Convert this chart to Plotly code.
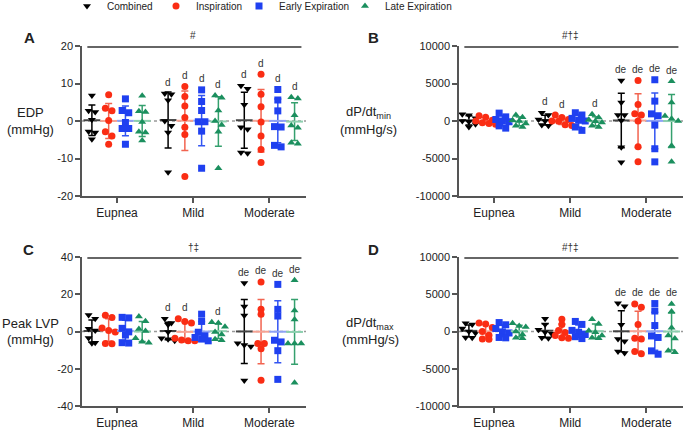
import numpy as np
import plotly.graph_objects as go

W, H = 685, 430

categories = ["Eupnea", "Mild", "Moderate"]
series = ["Combined", "Inspiration", "Early Expiration", "Late Expiration"]

# panel A - EDP (mmHg), one list per category
edp_combined = [[6.8, 2.7, 2.4, 0.3, -2.8, -3.1, -4.9], [7.3, 7.1, 5.5, 0.0, -1.3, -3.1, -13.7], [9.4, 8.6, 4.3, -1.7, -2.2, -8.4, -8.6]]
edp_insp = [[7.0, 3.4, 2.7, 0.1, -2.9, -4.0, -6.2], [9.2, 6.5, 4.0, 0.9, -1.7, -3.6, -14.8], [12.5, 7.1, 3.8, -0.3, -4.0, -7.6, -11.1]]
edp_early = [[5.9, 2.8, 2.2, -0.4, -2.0, -2.0, -6.2], [8.3, 5.2, 2.8, -0.2, -0.2, -2.7, -12.6], [8.4, 5.6, 2.7, -1.5, -1.6, -6.5, -6.9]]
edp_late = [[6.7, 2.6, 2.4, -0.3, -2.9, -3.1, -5.2], [6.8, 6.2, 2.8, 0.0, -1.1, -2.9, -12.6], [6.3, 6.0, 1.5, -1.2, -1.8, -5.8, -6.1]]
edp_sig = [["", "", "", ""], ["d", "d", "d", "d"], ["d", "d", "d", "d"]]

# panel B - dP/dt min (mmHg/s)
dpmin_combined = [[900, 750, 350, 0, -100, -450, -800], [1100, 800, 200, 0, -150, -550, -650], [5400, 2450, 800, 800, 50, -3500, -5500]]
dpmin_insp = [[700, 500, 100, 0, -250, -350, -450], [800, 450, 200, 0, -50, -500, -600], [5400, 2200, 950, 800, 0, -3450, -5450]]
dpmin_early = [[1050, 550, 200, 0, -100, -650, -950], [1100, 800, 350, 100, 0, -800, -1250], [5500, 2650, 950, 700, -550, -3700, -5450]]
dpmin_late = [[800, 500, 100, 0, -350, -650, -800], [900, 450, 150, -50, -200, -650, -800], [5300, 2450, 650, 300, 0, -3300, -5450]]
dpmin_sig = [["", "", "", ""], ["d", "d", "", "d"], ["de", "de", "de", "de"]]

# panel C - Peak LVP (mmHg)
lvp_combined = [[8.8, 6.8, 1.5, 0.5, -3.5, -6.0, -6.3], [6.8, 4.5, 3.6, -0.3, -3.6, -4.2, -5.0], [26.0, 13.4, 8.6, -6.3, -7.2, -8.0, -26.3]]
lvp_insp = [[8.7, 7.5, 1.9, 0.6, -0.3, -6.5, -6.6], [6.8, 5.4, 4.5, -3.6, -4.5, -5.0, -5.0], [26.6, 11.9, 9.2, -6.5, -6.5, -9.2, -26.2]]
lvp_early = [[7.6, 7.3, 1.7, -0.2, -1.9, -6.0, -6.2], [9.3, 5.4, -0.4, -2.3, -3.2, -4.0, -5.0], [25.3, 11.9, 8.3, -4.7, -5.6, -10.3, -25.7]]
lvp_late = [[8.0, 5.5, 1.3, 0.3, -3.6, -5.5, -6.0], [5.0, 4.6, 2.5, -0.3, -1.6, -4.2, -4.7], [27.5, 11.3, 6.5, -6.5, -6.5, -6.5, -27.5]]
lvp_sig = [["", "", "", ""], ["d", "d", "", "d"], ["de", "de", "de", "de"]]

# panel D - dP/dt max (mmHg/s)
dpmax_combined = [[1100, 950, 400, 0, -200, -800, -850], [1700, 950, 250, -100, -300, -850, -900], [3800, 3400, 900, -1000, -1300, -2900, -2700]]
dpmax_insp = [[1150, 1000, 550, 0, -500, -1000, -1050], [1650, 950, 150, -150, -550, -850, -900], [3700, 3250, 950, -900, -1000, -3000, -2700]]
dpmax_early = [[1200, 900, 400, -50, -200, -800, -850], [1350, 950, 150, -100, -400, -700, -950], [3750, 2750, 800, -800, -600, -3050, -2600]]
dpmax_late = [[1100, 750, 600, 0, -400, -850, -900], [1650, 1000, 100, -100, -550, -850, -900], [3700, 2700, 500, -950, -550, -2800, -2600]]
dpmax_sig = [["", "", "", ""], ["", "", "", ""], ["de", "de", "de", "de"]]

mmhg_ticks = [-20, -10, 0, 10, 20]
lvp_ticks = [-40, -20, 0, 20, 40]
dp_ticks = [-10000, -5000, 0, 5000, 10000]

# styling
symbols = ["triangle-down", "circle", "square", "triangle-up"]
colors = ["#000000", "#fa2d14", "#1f40f0", "#1b8f5e"]
bar_colors = ["#000000", "#f26450", "#3355f2", "#35a06e"]
mean_colors = ["#444444", "#f6a394", "#8ea1f5", "#8ccfae"]
group_off = [-0.33, -0.11, 0.11, 0.33]
legend_w = [44, 38, 61, 80]
font = "Liberation Sans, Arial, sans-serif"
xr = [-0.46, 2.48]

panels = [
    dict(letter="A", data=[edp_combined, edp_insp, edp_early, edp_late], sig=edp_sig, top="#",
         box=(82, 306, 46, 196), yr=(-20, 20), ticks=mmhg_ticks, title=["EDP", "(mmHg)"], tx=30, lx=29, ly=38),
    dict(letter="B", data=[dpmin_combined, dpmin_insp, dpmin_early, dpmin_late], sig=dpmin_sig, top="#†‡",
         box=(459, 683, 46, 196), yr=(-10000, 10000), ticks=dp_ticks, title=["dP/dt<sub>min</sub>", "(mmHg/s)"], tx=368, lx=373, ly=38),
    dict(letter="C", data=[lvp_combined, lvp_insp, lvp_early, lvp_late], sig=lvp_sig, top="†‡",
         box=(82, 306, 257, 406), yr=(-40, 40), ticks=lvp_ticks, title=["Peak LVP", "(mmHg)"], tx=30, lx=28, ly=249),
    dict(letter="D", data=[dpmax_combined, dpmax_insp, dpmax_early, dpmax_late], sig=dpmax_sig, top="#†‡",
         box=(459, 683, 257, 406), yr=(-10000, 10000), ticks=dp_ticks, title=["dP/dt<sub>max</sub>", "(mmHg/s)"], tx=370, lx=373, ly=249),
]


def swarm(py, d=6.6, thr=5.0):
    # spread points that sit at nearly the same height side by side (pixels)
    order = np.argsort(-py)
    off = np.zeros(len(py))
    rows = []
    for i in order:
        if rows and rows[-1][0] - py[i] < thr:
            rows[-1][1].append(i)
        else:
            rows.append([py[i], [i]])
    for _, idx in rows:
        n = len(idx)
        for k, i in enumerate(idx):
            off[i] = (k - (n - 1) / 2) * d
    return off


fig = go.Figure()
layout = {}
annotations = []
shapes = []
shown = set()

for p, pan in enumerate(panels, start=1):
    x0, x1, y0, y1 = pan["box"]
    xa, ya = "x%d" % p, "y%d" % p
    ppx = (x1 - x0) / (xr[1] - xr[0])
    ppy = (y1 - y0) / (pan["yr"][1] - pan["yr"][0])

    layout["xaxis%d" % p] = dict(
        domain=[x0 / W, x1 / W], range=xr, anchor=ya, showgrid=False, zeroline=False,
        showline=True, linecolor="#555", linewidth=1.5, ticks="outside", ticklen=5, tickwidth=1.5,
        tickcolor="#555", tickvals=[0, 1, 2], ticktext=categories,
        tickfont=dict(size=12, color="#222", family=font))
    layout["yaxis%d" % p] = dict(
        domain=[1 - y1 / H, 1 - y0 / H], range=list(pan["yr"]), anchor=xa, showgrid=False, zeroline=False,
        showline=True, linecolor="#555", linewidth=1.5, ticks="outside", ticklen=5, tickwidth=1.5,
        tickcolor="#555", tickvals=pan["ticks"], ticktext=[str(t) for t in pan["ticks"]],
        tickfont=dict(size=11, color="#222", family=font))

    # dotted zero line
    shapes.append(dict(type="line", xref=xa, yref=ya, x0=xr[0], x1=xr[1], y0=0, y1=0,
                       line=dict(color="#999", width=1.5, dash="dot"), layer="below"))
    # significance bar on top
    shapes.append(dict(type="line", xref="paper", yref="paper",
                       x0=(x0 + (-0.39 - xr[0]) * ppx) / W, x1=(x0 + (2.42 - xr[0]) * ppx) / W,
                       y0=1 - (y0 + 1) / H, y1=1 - (y0 + 1) / H, line=dict(color="#666", width=2)))
    annotations.append(dict(text=pan["top"], xref=xa, yref="paper", x=1, y=1 - (y0 - 10) / H,
                            xanchor="center", yanchor="middle", showarrow=False,
                            font=dict(size=10, color="#333", family=font)))

    for c in range(3):
        for s in range(4):
            vals = np.array(pan["data"][s][c], dtype=float)
            xc = c + group_off[s]
            xs = xc + swarm(vals * ppy) / ppx
            m, sd = vals.mean(), vals.std(ddof=1)
            fig.add_trace(go.Scatter(
                x=[xc], y=[m], xaxis=xa, yaxis=ya, mode="markers", showlegend=False, hoverinfo="skip",
                marker=dict(symbol="line-ew", size=12, color=mean_colors[s], line=dict(color=mean_colors[s], width=2)),
                error_y=dict(type="data", array=[sd], color=bar_colors[s], thickness=1.5, width=3.5)))
            fig.add_trace(go.Scatter(
                x=xs, y=vals, xaxis=xa, yaxis=ya, mode="markers", name=series[s],
                legendgroup=series[s], showlegend=s not in shown, legendwidth=legend_w[s],
                marker=dict(symbol=symbols[s], size=7, color=colors[s], line=dict(width=0))))
            shown.add(s)
            lab = pan["sig"][c][s]
            if lab:
                annotations.append(dict(text=lab, xref=xa, yref=ya, x=xc, y=vals.max(), yshift=11,
                                        xanchor="center", yanchor="middle", showarrow=False,
                                        font=dict(size=10, color="#333", family=font)))

    # y axis title, two lines
    zero_px = y0 + (pan["yr"][1] - 0) * ppy
    for k, line in enumerate(pan["title"]):
        annotations.append(dict(text=line, xref="paper", yref="paper", x=pan["tx"] / W,
                                y=1 - (zero_px - 8 + 16 * k) / H, xanchor="center", yanchor="middle",
                                showarrow=False, font=dict(size=13, color="#222", family=font)))
    annotations.append(dict(text="<b>%s</b>" % pan["letter"], xref="paper", yref="paper",
                            x=pan["lx"] / W, y=1 - pan["ly"] / H, xanchor="center", yanchor="middle",
                            showarrow=False, font=dict(size=15, color="#222", family=font)))

fig.update_layout(
    width=W, height=H, margin=dict(l=0, r=0, t=0, b=0, autoexpand=False),
    paper_bgcolor="white", plot_bgcolor="white",
    font=dict(family=font, color="#222"),
    annotations=annotations, shapes=shapes,
    legend=dict(orientation="h", x=67 / W, y=1.02, xanchor="left", yanchor="top",
                font=dict(size=10, color="#222", family=font), bgcolor="rgba(0,0,0,0)"),
    **layout,
)

fig.write_html("out.html", config={"displayModeBar": False},
               post_script="document.body.style.margin='0';")
